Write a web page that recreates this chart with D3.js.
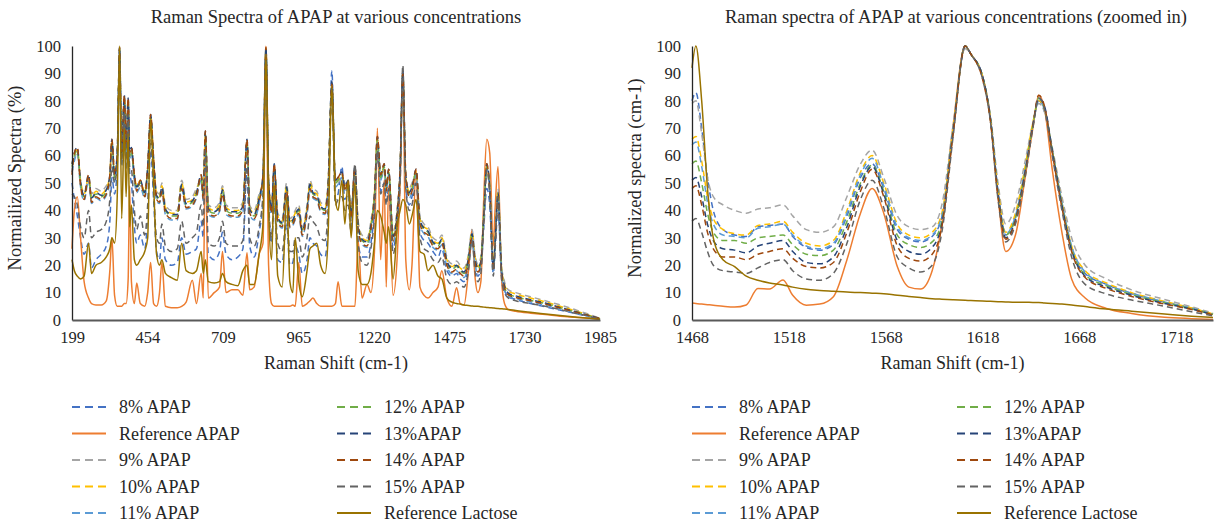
<!DOCTYPE html>
<html>
<head>
<meta charset="utf-8">
<script src="https://cdn.jsdelivr.net/npm/d3@7"></script>
<style>
  body { margin: 0; background: #fff; }
</style>
</head>
<body>
<svg id="chart" width="1216" height="527"></svg>
<script>
// ---- left panel: full spectrum (Raman shift, cm-1) ----
var shiftFull = [199,207,217,228,240,255,265,280,298,315,
  327,334,343,352,360,367,376,382,389,394,
  400,410,418,430,445,455,465,475,485,495,
  503,515,535,555,570,585,606,620,636,643,
  650,660,680,698,708,720,740,760,777,791,
  800,815,832,845,855,864,874,883,895,910,
  925,936,946,954,966,978,994,1004,1014,1027,
  1040,1055,1065,1078,1090,1099,1112,1122,1133,1143,
  1156,1167,1180,1197,1210,1222,1232,1243,1255,1262,
  1270,1285,1300,1309,1318,1328,1340,1349,1363,1376,
  1390,1403,1420,1437,1450,1467,1484,1500,1512,1525,
  1540,1552,1562,1572,1582,1592,1602,1612,1624,1630,
  1640,1652,1662,1675,1700,1750,1800,1850,1900,1950,1985];
var fullTicks = [199,454,709,965,1220,1475,1730,1985];

var full8 = [50,44,38,30,24,28,19,22,24,27,
  36,52,46,56,96,56,72,55,70,54,
  50,34,28,31,26,38,62,44,25,22,
  30,22,20,21,30,24,25,26,36,30,
  58,24,22,25,32,24,22,23,26,55,
  27,23,32,44,96,42,28,42,22,21,
  35,20,21,27,24,17,22,30,28,27,
  24,23,36,91,44,46,56,44,46,34,
  50,28,23,23,28,40,60,47,50,43,
  48,26,37,50,88,48,42,45,52,32,
  29,28,25,23,26,18,16,17,15,14,
  20,29,20,16,19,34,48,42,17,25,
  40,16,11,8.5,7.5,6,4.8,3.6,2.4,1.2,0.3];
var fullRefApap = [26,40,45,30,14,8,6,5.5,5.5,7,
  18,30,9,5,5,5,6,6,15,49,
  14,6,13.5,6,5,10,21,6,5,10,
  21,5,4.5,4.5,5,6.5,14.5,6,17,8,
  62,8,10,12,25,10,11,11,9,24.5,
  11,12,24,28,100,20,6,5,5,5,
  5,5,5.5,5,21,5,6,7,8,6,
  5,5,5,5,6,14,5,5,5,5,
  5,29,8,13,10,25,70,22,51,12,
  49,9,25,50,89,22,11,20,55,12,
  9,8,10,12,18,8,5,11.8,6,5.5,
  18,33,16,10,14,45,66,61,27,40,
  56,15,6,3.8,3.2,2.5,2,1.4,1,0.6,0.2];
var full9 = [55,59,61,49,47,51,46,48,47,49,
  51,64,51,59,98,59,80,61,79,59,
  61,51,50,49,48,54,73,57,47,46,
  50,42,40,40,51,44,45,48,51,47,
  67,42,41,43,49,42,41,41,43,64,
  42,40,46,51,98,49,42,55,39,37,
  50,37,38,40,42,34,42,51,48,47,
  43,42,50,85,49,50,52,50,49,40,
  54,36,31,30,36,47,65,51,55,50,
  53,32,42,54,89,51,48,50,53,38,
  35,34,30,29,31,23,20.5,21.5,20,19,
  24,33,24,20.5,23,40,55,50,21,30,
  48,20,14,11,10,8.5,7,5.5,3.8,2,0.6];
var full10 = [57,60,62,51,46,52,45,47,46,48,
  53,65,53,60,99,60,81,62,80,60,
  62,53,49,51,47,55,74,58,46,45,
  49,41,39,39,50,43,44,47,52,46,
  68,41,40,42,48,41,40,40,42,65,
  41,39,45,52,99,51,41,56,38,36,
  49,36,37,39,41,33,41,50,47,46,
  42,41,49,86,51,51,53,49,50,39,
  55,35,30,29,35,46,66,52,56,49,
  54,31,41,55,90,52,47,49,54,37,
  34,33,29,28,30,22,19.5,20.5,19,18,
  23,32,23,19.5,22,39,56,49,20,29,
  47,19,13,10.5,9.5,8,6.6,5,3.4,1.7,0.5];
var full11 = [54,58,61,48.5,43.5,51,42.5,44.5,43.5,45.5,
  50.5,64,50.5,59,98,59,80,61,79,59,
  61,50.5,46.5,48.5,44.5,54,73,57,43.5,42.5,
  46.5,38.5,36.5,36.5,47.5,40.5,41.5,44.5,51,43.5,
  67,38.5,37.5,39.5,45.5,38.5,37.5,37.5,39.5,64,
  38.5,36.5,42.5,51,98,48.5,38.5,55,35.5,33.5,
  46.5,33.5,34.5,36.5,38.5,30.5,38.5,47.5,44.5,43.5,
  39.5,38.5,46.5,85,48.5,49.5,52,46.5,48.5,36.5,
  54,32.5,27.5,26.5,32.5,43.5,65,51,55,46.5,
  53,28.5,38.5,54,89,51,44.5,46.5,53,34.5,
  31.5,30.5,26.5,25.5,27.5,19.5,17,18,16.5,15.5,
  20.5,30,20.5,17,19.5,36.5,55,46.5,17.5,26.5,
  44.5,16.5,11,8.5,7.8,6.6,5.4,4,2.7,1.3,0.4];
var full12 = [56,60,62,50,45,52,44,46,45,47,
  52,65,52,60,99,60,81,62,80,60,
  62,52,48,50,46,55,74,58,45,44,
  48,40,38,38,49,42,43,46,52,45,
  68,40,39,41,47,40,39,39,41,65,
  40,38,44,52,99,50,40,56,37,35,
  48,35,36,38,40,32,40,49,46,45,
  41,40,48,86,50,51,53,48,50,38,
  55,34,29,28,34,45,66,52,56,48,
  54,30,40,55,90,52,46,48,54,36,
  33,32,28,27,29,21,18.5,19.5,18,17,
  22,31,22,18.5,21,38,56,48,19,28,
  46,18,12,9.5,8.5,7.2,6,4.5,3,1.5,0.5];
var full13 = [57,61,63,50.5,45.5,53,44.5,46.5,45.5,47.5,
  53,66,53,61,99.5,61,82,63,81,61,
  63,53,48.5,51,46.5,56,75,59,45.5,44.5,
  48.5,40.5,38.5,38.5,49.5,42.5,43.5,46.5,53,45.5,
  69,40.5,39.5,41.5,47.5,40.5,39.5,39.5,41.5,66,
  40.5,38.5,44.5,53,99.5,51,40.5,57,37.5,35.5,
  48.5,35.5,36.5,38.5,40.5,32.5,40.5,49.5,46.5,45.5,
  41.5,40.5,48.5,87,51,52,54,48.5,51,38.5,
  56,34.5,29.5,28.5,34.5,45.5,67,53,57,48.5,
  55,30.5,40.5,56,91,53,46.5,48.5,55,36.5,
  33.5,32.5,28.5,27.5,29.5,21.5,19,20,18.5,17.5,
  22.5,31.5,22.5,19,21.5,38.5,57,48.5,19.5,28.5,
  46.5,18.5,12.5,9.8,8.8,7.4,6.2,4.6,3.1,1.6,0.5];
var full14 = [53,61,63,49,44,53,43,45,44,46,
  53,66,53,61,99.5,61,82,63,81,61,
  63,53,47,51,45,56,75,59,44,43,
  47,39,37,37,48,41,42,45,53,44,
  69,39,38,40,46,39,38,38,40,66,
  39,37,43,53,99.5,51,39,57,36,34,
  47,34,35,37,39,31,39,48,45,44,
  40,39,47,86,51,52,54,47,51,37,
  56,33,28,27,33,44,67,53,57,47,
  55,29,39,56,90,53,45,47,55,35,
  32,31,27,26,28,20,17.5,18.5,17,16,
  21,30,21,17.5,20,37,57,47,18,27,
  45,17,11.5,9.2,8.2,7,5.8,4.4,2.9,1.5,0.5];
var full15 = [46,45,42,34,30,40,30,32,33,36,
  44,56,50,58,98,58,76,58,75,56,
  55,40,33,38,31,42,66,48,30,28,
  35,27,25,26,36,28,30,32,42,34,
  62,28,27,30,36,28,27,27,29,58,
  30,27,34,46,97,44,30,46,28,25,
  38,25,25,30,30,23,30,38,36,34,
  30,29,40,84,42,44,45,40,42,32,
  57,28,21,20,26,38,62,46,50,42,
  48,24,36,52,93,48,40,42,50,30,
  26,25,22,21,23,15,13,14,13,12,
  18,29,18,14,17,36,55,46,16,26,
  45,15,10,8,7,6,5,3.8,2.5,1.3,0.3];
var fullRefLactose = [22,18,16,15,16,28,17,20,21,23,
  26,30,28,45,100,37,70,45,68,34,
  42,22,20,22,25,30,73,50,24,20,
  22,17,15.5,14.5,28,18,17,18,25,17,
  22,14,13.5,14,17,14,13,12.5,18,20,
  13,13,24,35,97,40,22,50,16,12,
  45,14,10,30,14,8.5,18,26,27,28,
  20,17,30,85,44,40,51,35,51,30,
  50,18,13,13,17,28,40,38,32,28,
  34,15,35,40,44,42,35,38,44,25,
  24,18,20,16,15,8,6.5,6,5.8,5.5,
  5.3,5.1,5,5,4.8,4.7,4.6,4.5,4.4,4.3,
  4.2,4.1,4,3.8,3.5,2.8,2.2,1.6,1.1,0.6,0.2];

// ---- right panel: zoomed in ----
var shiftZoom = [1468,1470,1473,1476,1479,1484,1490,1496,1502,1508,
  1515,1520,1527,1534,1541,1548,1555,1561,1567,1574,
  1580,1586,1592,1597,1603,1609,1612,1618,1622,1626,
  1630,1635,1640,1644,1647,1650,1654,1659,1664,1671,
  1682,1695,1712,1726,1737];
var zoomTicks = [1468,1518,1568,1618,1668,1718];

var zoom8 = [80,83,70,52,40,33,31,30.5,34,34.5,35,30.5,26.5,25.5,27.5,38,52,57,48,33,29.5,28.5,30.5,
  37.5,70,100,97,89,74,47,31,38,55,71,80,76,61,42,26,17,13,9.6,6.5,4.2,2];
var zoomRefApap = [6.2,6,5.8,5.6,5.4,5,4.7,5.5,11.5,11.3,14.6,9,5.4,5.8,8.5,22,39,48,39,19.5,12,11.3,18,
  35,72,100,97,89,74,45,25,31,52,70,82,77,55,32,15,8,4.2,2.4,1,0.5,0.2];
var zoom9 = [79,80,68,52,45,42,40,39,40.5,41,42,38,33,32,34,45,57,62,52,38,34,33,34,
  42,72,99,97,89,75,50,35,42,58,72,79,76,63,45,30,20,15,11,7.5,4.8,2.5];
var zoom10 = [66,67,58,45,37,33,31.5,31,34.5,35,36,32,28,27,29,40,54,60,50,35,31,30,32,
  39,71,100,97,89,74,48,32,39,56,72,80,77,62,43,27,18,13.5,10,6.8,4.4,2.2];
var zoom11 = [64,65,56,43,35,31,30.5,30,33.5,34,35,31,27,26,28,39,53,59,49,34,30,29,31,
  38,71,100,97,89,74,47,31.5,38,55,71,80,77,62,43,27,17.5,13,9.8,6.6,4.3,2.1];
var zoom12 = [57,58,50,39,32,29,29,28,30,30.5,31,27.5,24,23.5,25.5,36,50,56.5,47,31,27.5,26.5,28.5,
  36,70,100,97,89,74,46,31,37,54,71,81,77,62,42,26,16.5,12.5,9.3,6.3,4.1,2];
var zoom13 = [51,52,45,35,29,26,25.5,24.5,27,28,29,25,21,20.5,23,34,49,56,46,29,25,24,26.5,
  35,70,100,97,89,74,46,30,36.5,54,71,81,78,62,42,25.5,16,12,9,6,4,1.9];
var zoom14 = [48,49,42,32,26,23,23,22,24,25,26,22.5,19.5,19,21,32,47,55,45,27,22.5,21.5,24,
  34,69,100,97,88,73,45,29.5,36,53,71,82,78,61,41,25,15.5,11.5,8.6,5.8,3.8,1.8];
var zoom15 = [36,37,32,25,20,18,17.5,17,19,21,22,18,15,14.5,17,28,44,51,41,23,19,17.5,20,
  32,68,100,97,88,73,44,28.5,35,52,70,81,77,60,40,23,13,9.5,7.3,5,3,1.5];
var zoomRefLactose = [92,100,80,48,30,22,19.5,16,14.5,13.5,12.8,12,11.2,10.8,10.5,10.2,10,9.8,9.6,9,8.6,8.2,7.8,
  7.6,7.4,7.2,7.1,6.9,6.8,6.7,6.6,6.5,6.5,6.4,6.4,6.2,6,5.8,5.5,4.9,4,3.2,2.2,1.4,0.9];

var seriesNames = ["8% APAP","Reference APAP","9% APAP","10% APAP","11% APAP",
  "12% APAP","13%APAP","14% APAP","15% APAP","Reference Lactose"];
var yTicks = [0,10,20,30,40,50,60,70,80,90,100];

// styling (excel default palette)
var colors = ["#4472c4","#ed7d31","#a5a5a5","#ffc000","#5b9bd5","#70ad47","#264478","#9e480e","#636363","#997300"];
var dashed = [true,false,true,true,true,true,true,true,true,false];
var FONT = "'Liberation Serif', 'Times New Roman', Tinos, 'DejaVu Serif', serif";
var INK = "#262626";

var svg = d3.select("#chart");

function label(sel, size) {
    return sel.style("font-family", FONT).style("font-size", size + "px").attr("fill", INK);
}

function drawPanel(p) {
    var x = d3.scaleLinear().domain(p.domain).range([p.left, p.right]);
    var y = d3.scaleLinear().domain([0, 100]).range([320, 46]);
    var g = svg.append("g");

    // title
    label(g.append("text"), 18.5)
        .attr("x", p.titleX).attr("y", 23)
        .attr("text-anchor", "middle")
        .text(p.title);

    var line = d3.line()
        .x(function(d) { return x(d[0]); })
        .y(function(d) { return y(d[1]); })
        .curve(d3.curveMonotoneX);

    p.series.forEach(function(vals, i) {
        var pts = p.shift.map(function(s, k) { return [s, vals[k]]; });
        g.append("path")
            .attr("d", line(pts))
            .attr("fill", "none")
            .attr("stroke", colors[i])
            .attr("stroke-width", 1.5)
            .attr("stroke-linejoin", "round")
            .attr("stroke-dasharray", dashed[i] ? "6,4" : null);
    });

    // Y axis
    var yAxis = d3.axisLeft(y).tickValues(yTicks).tickSize(0).tickPadding(11);
    var ya = g.append("g").attr("transform", "translate(" + p.left + ",0)").call(yAxis);
    ya.select(".domain").attr("stroke", INK).attr("stroke-width", 1.3);
    label(ya.selectAll("text"), 16.5);

    // X axis
    var xAxis = d3.axisBottom(x).tickValues(p.ticks).tickFormat(d3.format("d")).tickSize(0).tickPadding(11);
    var xa = g.append("g").attr("transform", "translate(0,320)").call(xAxis);
    xa.select(".domain").attr("stroke", "#595959").attr("stroke-width", 1.8);
    label(xa.selectAll("text"), 16.5);

    // axis titles
    label(g.append("text"), 18)
        .attr("x", (p.left + p.right) / 2).attr("y", 369)
        .attr("text-anchor", "middle")
        .text("Raman Shift (cm-1)");
    label(g.append("text"), 18.5)
        .attr("transform", "translate(" + p.yTitleX + ",178) rotate(-90)")
        .attr("text-anchor", "middle")
        .text(p.yTitle);

    // legend: two columns of five
    seriesNames.forEach(function(name, i) {
        var col = Math.floor(i / 5), row = i % 5;
        var lx = p.legendX[col], ly = 407 + row * 26.5;
        g.append("line")
            .attr("x1", lx).attr("x2", lx + 34)
            .attr("y1", ly).attr("y2", ly)
            .attr("stroke", colors[i])
            .attr("stroke-width", 1.8)
            .attr("stroke-dasharray", dashed[i] ? "8,5" : null);
        label(g.append("text"), 18)
            .attr("x", lx + 47).attr("y", ly)
            .attr("dy", "0.35em")
            .text(name);
    });
}

drawPanel({
    shift: shiftFull, domain: [199, 1985], ticks: fullTicks,
    left: 72, right: 600, titleX: 336, yTitleX: 21,
    title: "Raman Spectra of APAP at various concentrations",
    yTitle: "Normailized Spectra (%)",
    legendX: [72, 337],
    series: [full8, fullRefApap, full9, full10, full11, full12, full13, full14, full15, fullRefLactose]
});

drawPanel({
    shift: shiftZoom, domain: [1468, 1737], ticks: zoomTicks,
    left: 692, right: 1213, titleX: 956, yTitleX: 641,
    title: "Raman spectra of APAP at various concentrations (zoomed in)",
    yTitle: "Normalized spectra (cm-1)",
    legendX: [692, 957],
    series: [zoom8, zoomRefApap, zoom9, zoom10, zoom11, zoom12, zoom13, zoom14, zoom15, zoomRefLactose]
});
</script>
</body>
</html>
